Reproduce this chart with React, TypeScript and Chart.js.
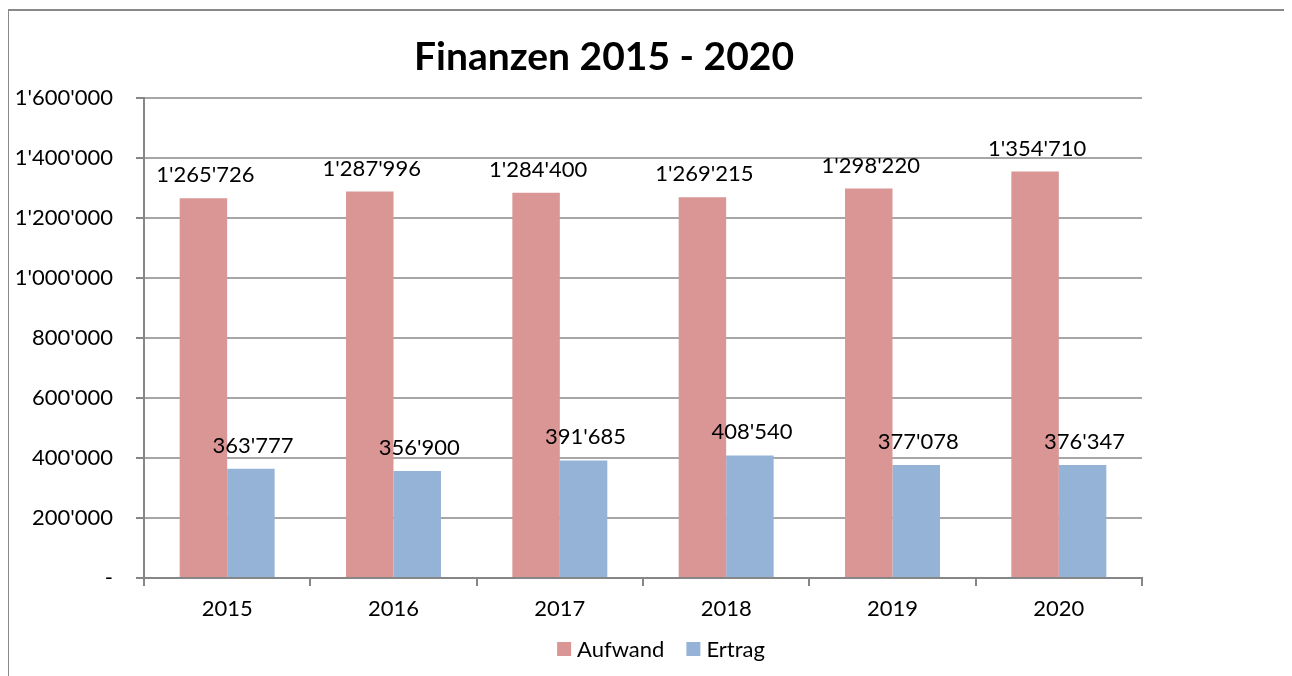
import React, { useEffect, useRef } from "react";
import { Chart, registerables } from "chart.js";

Chart.register(...registerables);

const categories = ["2015", "2016", "2017", "2018", "2019", "2020"];
const aufwand = [1265726, 1287996, 1284400, 1269215, 1298220, 1354710];
const ertrag = [363777, 356900, 391685, 408540, 377078, 376347];
const seriesNames = ["Aufwand", "Ertrag"];
const seriesColors = ["#D99694", "#95B3D7"];
const titleText = "Finanzen 2015 - 2020";
const yMax = 1600000;
const yStep = 200000;

const FONT = "Lato";
const FS = 22;

function fmt(v: number): string {
  if (v === 0) return "-";
  const s = Math.round(v).toString();
  return s.replace(/\B(?=(\d{3})+(?!\d))/g, "'");
}

const decorPlugin = {
  id: "decor",
  afterDatasetsDraw(chart: any) {
    const ctx = chart.ctx;
    ctx.save();
    // data labels
    ctx.fillStyle = "#000";
    ctx.font = `${FS}px ${FONT}`;
    ctx.textAlign = "center";
    ctx.textBaseline = "alphabetic";
    chart.data.datasets.forEach((ds: any, di: number) => {
      const meta = chart.getDatasetMeta(di);
      meta.data.forEach((bar: any, i: number) => {
        ctx.fillText(fmt(ds.data[i]), bar.x + 2, bar.y - 16);
      });
    });
    // title
    ctx.font = `bold 39px ${FONT}`;
    ctx.textAlign = "center";
    ctx.fillText(titleText, 596, 62);
    // legend
    ctx.font = `${FS}px ${FONT}`;
    ctx.textAlign = "left";
    const box = 14;
    const gapText = 6;
    const gapItem = 22;
    const widths = chart.data.datasets.map((d: any) => ctx.measureText(d.label).width);
    let total = 0;
    widths.forEach((w: number, i: number) => {
      total += box + gapText + w + (i < widths.length - 1 ? gapItem : 0);
    });
    let x = 653 - total / 2;
    const yc = 641;
    chart.data.datasets.forEach((d: any, i: number) => {
      ctx.fillStyle = d.backgroundColor;
      ctx.fillRect(x, yc - box / 2, box, box);
      ctx.fillStyle = "#000";
      ctx.textBaseline = "middle";
      ctx.fillText(d.label, x + box + gapText, yc + 1);
      x += box + gapText + widths[i] + gapItem;
    });
    ctx.restore();
  },
};

export default function App() {
  const ref = useRef<HTMLCanvasElement | null>(null);
  useEffect(() => {
    document.body.style.overflow = "hidden";
    if (!ref.current) return;
    const chart = new Chart(ref.current, {
      type: "bar",
      data: {
        labels: categories,
        datasets: [
          {
            label: seriesNames[0],
            data: aufwand,
            backgroundColor: seriesColors[0],
            categoryPercentage: 0.571,
            barPercentage: 1,
          },
          {
            label: seriesNames[1],
            data: ertrag,
            backgroundColor: seriesColors[1],
            categoryPercentage: 0.571,
            barPercentage: 1,
          },
        ],
      },
      options: {
        animation: false,
        responsive: false,
        devicePixelRatio: 1,
        layout: { padding: { left: 0, right: 150, top: 90, bottom: 0 } },
        plugins: {
          legend: { display: false },
          title: { display: false },
          tooltip: { enabled: false },
        },
        scales: {
          x: {
            grid: {
              display: true,
              drawOnChartArea: false,
              drawTicks: true,
              tickLength: 8,
              color: "#868686",
              lineWidth: 2,
              offset: true,
            },
            border: { display: true, color: "#868686", width: 2 },
            ticks: {
              color: "#000",
              font: { family: FONT, size: FS },
              padding: 10,
            },
            afterFit(scale: any) {
              scale.height = 98;
            },
          },
          y: {
            min: 0,
            max: yMax,
            grid: {
              color: "#A6A6A6",
              lineWidth: 2,
              tickLength: 8,
              tickColor: "#868686",
            },
            border: { display: true, color: "#868686", width: 2 },
            ticks: {
              stepSize: yStep,
              color: "#000",
              font: { family: FONT, size: FS },
              padding: 23,
              callback: (v: any) => fmt(Number(v)),
            },
            afterFit(scale: any) {
              scale.width = 136;
            },
          },
        },
      },
      plugins: [decorPlugin],
    });
    return () => chart.destroy();
  }, []);
  return (
    <div style={{ position: "relative", width: 1300, height: 668, overflow: "hidden" }}>
      <div
        style={{
          position: "absolute",
          left: -1,
          top: 1,
          right: 0,
          bottom: 0,
          borderTop: "2px solid #898989",
          borderLeft: "2px solid #898989",
        }}
      />
      <canvas ref={ref} width={1284} height={668} style={{ position: "absolute", left: 0, top: 0 }} />
    </div>
  );
}
